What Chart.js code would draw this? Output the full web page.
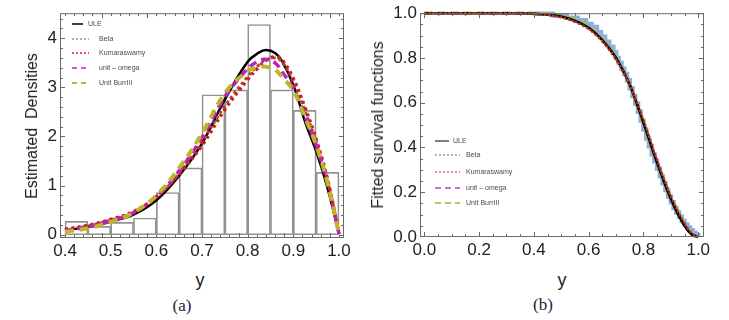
<!DOCTYPE html>
<html>
<head>
<meta charset="utf-8">
<script src="https://cdn.jsdelivr.net/npm/chart.js@4.4.1/dist/chart.umd.min.js"></script>
<style>
  body { margin: 0; background: #fff; width: 729px; height: 320px; position: relative; overflow: hidden;
         font-family: "Liberation Sans", Arial, sans-serif; }
  canvas { position: absolute; top: 0; }
  #chartA { left: 0; }
  #chartB { left: 365px; }
  .lbl { position: absolute; color: #222; white-space: nowrap; transform: translate(-50%, -50%); }
  .rot { transform: translate(-50%, -50%) rotate(-90deg); }
  .cap { font-family: "Liberation Serif", "Times New Roman", serif; font-size: 17px; color: #1c1c3c; }
</style>
</head>
<body>
<canvas id="chartA" width="365" height="262"></canvas>
<canvas id="chartB" width="364" height="262"></canvas>

<div class="lbl rot" style="left:32px;top:126px;font-size:16px">Estimated&nbsp; Densities</div>
<div class="lbl" style="left:200px;top:280px;font-size:18px">y</div>
<div class="lbl cap" style="left:182px;top:306px">(a)</div>

<div class="lbl rot" style="left:378px;top:125px;font-size:16px">Fitted survival functions</div>
<div class="lbl" style="left:562px;top:280px;font-size:18px">y</div>
<div class="lbl cap" style="left:543px;top:305px">(b)</div>

<script>
// ---- panel (a): histogram + fitted densities ----
const binCenters = [0.425, 0.475, 0.525, 0.575, 0.625, 0.675, 0.725, 0.775, 0.825, 0.875, 0.925, 0.975];
const binHeights = [0.27, 0.17, 0.25, 0.34, 0.86, 1.36, 2.85, 2.95, 4.28, 2.95, 2.53, 1.27];

const densX     = [0.40, 0.45, 0.50, 0.55, 0.60, 0.65, 0.70, 0.75, 0.80, 0.825, 0.84, 0.86, 0.875, 0.90, 0.925, 0.95, 0.975, 1.00];
const densULE   = [0.09, 0.16, 0.27, 0.41, 0.70, 1.20, 1.86, 2.75, 3.52, 3.71, 3.76, 3.70, 3.54, 3.05, 2.32, 1.70, 0.95, 0.02];
const densBeta  = [0.10, 0.18, 0.30, 0.46, 0.76, 1.25, 1.90, 2.62, 3.22, 3.46, 3.56, 3.60, 3.52, 3.12, 2.53, 1.90, 1.10, 0.02];
const densKum   = [0.11, 0.19, 0.31, 0.47, 0.77, 1.24, 1.82, 2.55, 3.16, 3.42, 3.55, 3.62, 3.56, 3.18, 2.60, 1.94, 1.12, 0.02];
const densOmega = [0.08, 0.16, 0.28, 0.45, 0.78, 1.30, 1.98, 2.80, 3.38, 3.54, 3.57, 3.50, 3.32, 2.98, 2.42, 1.82, 1.05, 0.02];
const densBurr  = [0.06, 0.13, 0.26, 0.45, 0.80, 1.36, 2.06, 2.88, 3.33, 3.41, 3.42, 3.36, 3.22, 2.93, 2.40, 1.82, 1.05, 0.02];

const ticksAx = [0.4, 0.5, 0.6, 0.7, 0.8, 0.9, 1.0];
const ticksAy = [0, 1, 2, 3, 4];

// ---- panel (b): survival functions ----
const survX     = [0.0, 0.1, 0.2, 0.3, 0.4, 0.45, 0.5, 0.55, 0.6, 0.65, 0.7, 0.75, 0.8, 0.85, 0.9, 0.95, 0.975, 1.0];
const survULE   = [1, 1, 1, 1, 0.998, 0.994, 0.985, 0.966, 0.935, 0.880, 0.800, 0.680, 0.510, 0.330, 0.170, 0.050, 0.012, 0];
const survBeta  = [1, 1, 1, 1, 0.997, 0.992, 0.982, 0.962, 0.930, 0.875, 0.795, 0.680, 0.520, 0.340, 0.180, 0.060, 0.018, 0];
const survKum   = [1, 1, 1, 1, 0.997, 0.991, 0.980, 0.960, 0.928, 0.872, 0.790, 0.678, 0.525, 0.345, 0.185, 0.062, 0.020, 0];
const survOmega = [1, 1, 1, 1, 0.998, 0.993, 0.984, 0.965, 0.934, 0.878, 0.798, 0.680, 0.515, 0.335, 0.175, 0.058, 0.016, 0];
const survBurr  = [1, 1, 1, 1, 0.999, 0.996, 0.988, 0.970, 0.938, 0.882, 0.800, 0.678, 0.512, 0.335, 0.178, 0.060, 0.018, 0];

// empirical survival (step function)
const empX = [0.40, 0.47, 0.52, 0.56, 0.59, 0.61, 0.63, 0.645, 0.66, 0.675, 0.69, 0.70, 0.71, 0.72, 0.73, 0.74, 0.75, 0.76, 0.77, 0.78,
              0.79, 0.80, 0.81, 0.82, 0.83, 0.84, 0.85, 0.86, 0.87, 0.88, 0.89, 0.90, 0.91, 0.92, 0.93, 0.94, 0.95, 0.96, 0.97, 0.98, 0.99, 1.0];
const empS = [0.997, 0.990, 0.980, 0.968, 0.952, 0.938, 0.915, 0.895, 0.872, 0.850, 0.825, 0.800, 0.778, 0.752, 0.728, 0.700, 0.665, 0.630, 0.595, 0.560,
              0.520, 0.480, 0.440, 0.405, 0.370, 0.338, 0.305, 0.272, 0.240, 0.210, 0.180, 0.155, 0.130, 0.110, 0.090, 0.072, 0.056, 0.042, 0.030, 0.018, 0.008, 0.0];

const ticksBx = [0, 0.2, 0.4, 0.6, 0.8, 1.0];
const ticksBy = [0, 0.2, 0.4, 0.6, 0.8, 1.0];

const seriesNames = ['ULE', 'Beta', 'Kumaraswamy', 'unit \u2013 omega', 'Unit BurrIII'];

function pts(xs, ys) { return xs.map((x, i) => ({ x: x, y: ys[i] })); }

// frame with inward major/minor ticks on all four sides (Mathematica style)
const framePlugin = {
  id: 'frame',
  afterDatasetsDraw(chart, args, o) {
    const { ctx, chartArea: a, scales: { x, y } } = chart;
    ctx.save();
    ctx.strokeStyle = '#6a6a6a';
    ctx.lineWidth = 1;
    ctx.strokeRect(a.left + 0.5, a.top + 0.5, a.width - 1, a.height - 1);
    ctx.beginPath();
    for (let i = 0; i <= o.xN; i++) {
      const v = o.x0 + i * o.xStep;
      const px = Math.round(x.getPixelForValue(v)) + 0.5;
      if (px < a.left || px > a.right) continue;
      const len = (i % o.xEvery === 0) ? 5 : 3;
      ctx.moveTo(px, a.bottom); ctx.lineTo(px, a.bottom - len);
      ctx.moveTo(px, a.top); ctx.lineTo(px, a.top + len);
    }
    for (let i = 0; i <= o.yN; i++) {
      const v = o.y0 + i * o.yStep;
      const py = Math.round(y.getPixelForValue(v)) + 0.5;
      if (py < a.top || py > a.bottom) continue;
      const len = (i % o.yEvery === 0) ? 5 : 3;
      ctx.moveTo(a.left, py); ctx.lineTo(a.left + len, py);
      ctx.moveTo(a.right, py); ctx.lineTo(a.right - len, py);
    }
    ctx.stroke();
    ctx.restore();
  }
};

// hand-placed legend like the original
const legendPlugin = {
  id: 'miniLegend',
  afterDraw(chart, args, o) {
    const ctx = chart.ctx;
    ctx.save();
    ctx.font = '7px "Liberation Sans", Arial, sans-serif';
    ctx.textBaseline = 'middle';
    o.items.forEach((it, i) => {
      const st = o.styles[i];
      ctx.strokeStyle = st.color;
      ctx.lineWidth = st.width;
      ctx.setLineDash(st.dash);
      ctx.beginPath();
      ctx.moveTo(it.x0, it.y); ctx.lineTo(it.x1, it.y);
      ctx.stroke();
      ctx.setLineDash([]);
      ctx.fillStyle = '#4a4a4a';
      ctx.fillText(seriesNames[i], it.tx, it.y);
    });
    ctx.restore();
  }
};

function axis(min, max, tickVals, fmt, extra) {
  return Object.assign({
    type: 'linear', min: min, max: max, offset: false,
    afterBuildTicks: s => { s.ticks = tickVals.map(v => ({ value: v })); },
    grid: { display: false, drawTicks: false, offset: false },
    border: { display: false },
    ticks: { font: { size: 17, family: '"Liberation Sans", Arial, sans-serif' }, color: '#222',
             autoSkip: false, maxRotation: 0, callback: fmt }
  }, extra);
}

const curveA = { pointRadius: 0, fill: false, tension: 0.4, clip: 6 };
const curveB = { pointRadius: 0, fill: false, cubicInterpolationMode: 'monotone', clip: 6 };

// ---------- chart (a) ----------
const stylesA = [
  { color: '#000000', width: 1.5, dash: [] },
  { color: '#8c5a32', width: 1, dash: [2, 2] },
  { color: '#d01e1e', width: 1.5, dash: [2, 2] },
  { color: '#c21cc2', width: 1.5, dash: [5, 4] },
  { color: '#bdb62a', width: 2, dash: [5, 4] }
];

new Chart(document.getElementById('chartA'), {
  data: {
    datasets: [
      { type: 'bar', data: pts(binCenters, binHeights), backgroundColor: 'rgba(255,255,255,0)',
        borderColor: '#929292', borderWidth: 1, borderSkipped: false,
        barPercentage: 1, categoryPercentage: 1, order: 10 },
      Object.assign({ type: 'line', data: pts(densX, densULE), borderColor: '#000', borderWidth: 2.5, order: 5 }, curveA),
      Object.assign({ type: 'line', data: pts(densX, densBeta), borderColor: '#8c5a32', borderWidth: 3, borderDash: [3, 3], order: 4 }, curveA),
      Object.assign({ type: 'line', data: pts(densX, densKum), borderColor: '#d01e1e', borderWidth: 3.5, borderDash: [3, 3.5], order: 3 }, curveA),
      Object.assign({ type: 'line', data: pts(densX, densOmega), borderColor: '#c21cc2', borderWidth: 3.5, borderDash: [8, 5], order: 2 }, curveA),
      Object.assign({ type: 'line', data: pts(densX, densBurr), borderColor: '#bdb62a', borderWidth: 4, borderDash: [9, 6], order: 1 }, curveA)
    ]
  },
  options: {
    responsive: false, animation: false,
    layout: { padding: { left: 0, right: 21, top: 12, bottom: 0 } },
    scales: {
      x: axis(0.389, 1.011, ticksAx, v => v.toFixed(1), { afterFit: s => { s.height = 24; } }),
      y: axis(-0.067, 4.51, ticksAy, v => String(v), { afterFit: s => { s.width = 60; } })
    },
    plugins: {
      legend: { display: false }, tooltip: { enabled: false },
      frame: { x0: 0.38, xStep: 0.02, xN: 32, xEvery: 5, y0: 0, yStep: 0.2, yN: 23, yEvery: 5 },
      miniLegend: {
        styles: stylesA,
        items: [
          { x0: 72, x1: 83, tx: 88, y: 24 },
          { x0: 72, x1: 89, tx: 99, y: 39 },
          { x0: 72, x1: 89, tx: 99, y: 53 },
          { x0: 72, x1: 89, tx: 99, y: 68 },
          { x0: 72, x1: 89, tx: 99, y: 83 }
        ]
      }
    }
  },
  plugins: [framePlugin, legendPlugin]
});

// ---------- chart (b) ----------
const stylesB = [
  { color: '#555555', width: 1.5, dash: [] },
  { color: '#8c5a32', width: 1, dash: [2, 2] },
  { color: '#e01515', width: 1.2, dash: [2, 2] },
  { color: '#d030d0', width: 1.5, dash: [6, 4] },
  { color: '#c8c25a', width: 2, dash: [6, 4] }
];

new Chart(document.getElementById('chartB'), {
  type: 'line',
  data: {
    datasets: [
      { data: pts(empX, empS), borderColor: 'rgba(100,150,210,0.75)', borderWidth: 4.5, stepped: true,
        pointRadius: 0, fill: false, clip: 6, order: 10 },
      Object.assign({ data: pts(survX, survBurr), borderColor: '#bdb62a', borderWidth: 3.5, borderDash: [8, 5], order: 5 }, curveB),
      Object.assign({ data: pts(survX, survOmega), borderColor: '#c21cc2', borderWidth: 2, borderDash: [7, 4], order: 4 }, curveB),
      Object.assign({ data: pts(survX, survULE), borderColor: '#000', borderWidth: 2.5, order: 3 }, curveB),
      Object.assign({ data: pts(survX, survBeta), borderColor: '#8c5a32', borderWidth: 2, borderDash: [2, 2], order: 2 }, curveB),
      Object.assign({ data: pts(survX, survKum), borderColor: '#d01e1e', borderWidth: 2, borderDash: [2, 3], order: 1 }, curveB)
    ]
  },
  options: {
    responsive: false, animation: false,
    layout: { padding: { left: 0, right: 25, top: 10, bottom: 0 } },
    scales: {
      x: axis(-0.0157, 1.021, ticksBx, v => v.toFixed(1), { afterFit: s => { s.height = 25; } }),
      y: axis(0, 1, ticksBy, v => v.toFixed(1), { afterFit: s => { s.width = 55; } })
    },
    plugins: {
      legend: { display: false }, tooltip: { enabled: false },
      frame: { x0: 0, xStep: 0.05, xN: 20, xEvery: 4, y0: 0, yStep: 0.05, yN: 20, yEvery: 4 },
      miniLegend: {
        styles: stylesB,
        items: [
          { x0: 70, x1: 84, tx: 88, y: 141 },
          { x0: 70, x1: 95, tx: 101, y: 155 },
          { x0: 70, x1: 95, tx: 101, y: 172 },
          { x0: 70, x1: 95, tx: 101, y: 188 },
          { x0: 70, x1: 95, tx: 101, y: 203 }
        ]
      }
    }
  },
  plugins: [framePlugin, legendPlugin]
});
</script>
</body>
</html>
